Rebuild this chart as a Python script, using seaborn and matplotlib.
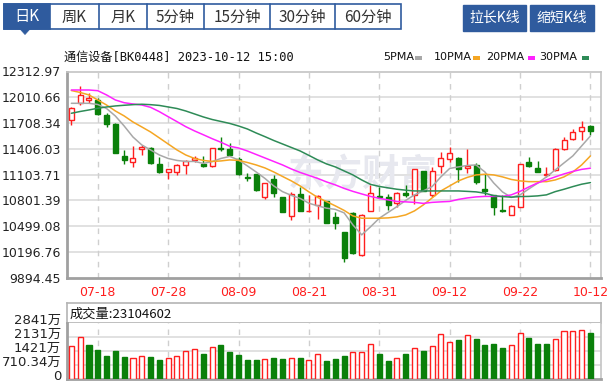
import numpy as np
import pandas as pd
import matplotlib
matplotlib.use("Agg")
import matplotlib.pyplot as plt
from matplotlib.patches import Rectangle, Polygon
from matplotlib.transforms import ScaledTranslation
import seaborn as sns

# ---------------- data ----------------
tick_idx = [3, 11, 19, 27, 35, 43, 51, 59]
tick_labels = ["07-18", "07-28", "08-09", "08-21", "08-31", "09-12", "09-22", "10-12"]

open_ = [11745, 11940, 11979, 11979, 11803, 11698, 11326, 11249, 11401, 11420,
         11229, 11132, 11139, 11217, 11276, 11223, 11205, 11420, 11401, 11284,
         11080, 11108, 10846, 11053, 10846, 10623, 10874, 10675, 10748, 10799,
         10611, 10428, 10658, 10162, 10682, 10854, 10839, 10775, 10885, 10866,
         11150, 10866, 11205, 11284, 11296, 11182, 11217, 10932, 10866, 10686,
         10631, 10728, 11256, 11178, 11096, 11158, 11401, 11518, 11619, 11678]
high = [11900, 12143, 12065, 11999, 11830, 11706, 11393, 11440, 11451, 11432,
        11314, 11167, 11229, 11276, 11326, 11323, 11415, 11542, 11471, 11314,
        11120, 11112, 11010, 11100, 10846, 10904, 10956, 10866, 10866, 10799,
        10670, 10428, 10670, 10639, 10983, 10963, 10877, 10904, 10983, 11167,
        11150, 11190, 11373, 11432, 11307, 11401, 11237, 11112, 10866, 10866,
        10748, 11229, 11307, 11264, 11190, 11413, 11542, 11635, 11736, 11686]
low = [11686, 11920, 11940, 11803, 11666, 11354, 11225, 11197, 11334, 11229,
       11127, 11056, 11100, 11111, 11252, 11190, 11197, 11381, 11326, 11100,
       11033, 10916, 10818, 10838, 10663, 10573, 10682, 10670, 10581, 10541,
       10467, 10084, 10174, 10154, 10682, 10827, 10690, 10728, 10845, 10760,
       10916, 10845, 11120, 11256, 11021, 11120, 10994, 10866, 10631, 10670,
       10631, 10721, 11190, 11132, 11080, 11150, 11393, 11510, 11510, 11569]
close = [11882, 12038, 11997, 11811, 11698, 11361, 11276, 11303, 11432, 11237,
         11139, 11167, 11217, 11268, 11303, 11209, 11413, 11405, 11334, 11112,
         11068, 10924, 11003, 10893, 10670, 10877, 10682, 10682, 10854, 10541,
         10534, 10124, 10182, 10631, 10885, 10839, 10748, 10893, 10866, 11167,
         10916, 11150, 11296, 11361, 11167, 11200, 11021, 10912, 10721, 10678,
         10736, 11229, 11205, 11139, 11108, 11401, 11510, 11607, 11659, 11619]

# volume in 万
volume = [1655, 2123, 1722, 1471, 1170, 1421, 1120, 1053, 1170, 1120,
          953, 1053, 1170, 1404, 1521, 1237, 1588, 1722, 1354, 1187,
          953, 953, 1003, 1053, 1003, 1053, 1053, 936, 1237, 886,
          1003, 1170, 1354, 1354, 1772, 1237, 886, 1053, 1237, 1538,
          1421, 1655, 2256, 1839, 1956, 2190, 2022, 1722, 1772, 1538,
          1722, 2307, 2073, 1772, 1772, 2022, 2424, 2424, 2490, 2310.46]

ma5 = [11940, 11940, 11940, 11926, 11879, 11791, 11674, 11545, 11452, 11393,
       11334, 11293, 11270, 11258, 11258, 11235, 11256, 11293, 11317, 11276,
       11206, 11135, 11059, 10971, 10904, 10860, 10825, 10768, 10737, 10710,
       10696, 10655, 10514, 10397, 10491, 10592, 10660, 10728, 10801, 10866,
       10912, 10963, 11077, 11176, 11194, 11211, 11217, 11135, 11006, 10901,
       10836, 10866, 10936, 11003, 11077, 11159, 11241, 11323, 11440, 11557]
ma10 = [12090, 12067, 12038, 11979, 11920, 11850, 11792, 11721, 11663, 11604,
        11534, 11463, 11393, 11334, 11293, 11270, 11258, 11264, 11276, 11270,
        11246, 11217, 11182, 11135, 11082, 11030, 10971, 10901, 10836, 10787,
        10737, 10684, 10619, 10592, 10592, 10592, 10596, 10608, 10631, 10678,
        10748, 10830, 10912, 10971, 11030, 11071, 11100, 11108, 11100, 11077,
        11047, 11030, 11021, 11021, 11021, 11041, 11077, 11135, 11217, 11323]
ma20 = [12096, 12096, 12096, 12088, 12038, 11979, 11947, 11932, 11920, 11893,
        11842, 11783, 11725, 11666, 11616, 11571, 11525, 11483, 11436, 11416,
        11381, 11340, 11299, 11258, 11217, 11170, 11129, 11094, 11059, 11018,
        10983, 10942, 10907, 10877, 10848, 10825, 10807, 10789, 10784, 10778,
        10766, 10778, 10784, 10789, 10813, 10830, 10842, 10848, 10848, 10848,
        10866, 10907, 10959, 11006, 11041, 11077, 11112, 11141, 11165, 11179]
ma30 = [11823, 11844, 11862, 11882, 11897, 11909, 11917, 11924, 11929, 11924,
        11915, 11897, 11879, 11850, 11815, 11780, 11750, 11727, 11704, 11674,
        11639, 11592, 11549, 11504, 11463, 11422, 11381, 11329, 11276, 11229,
        11194, 11147, 11100, 11041, 10989, 10965, 10948, 10932, 10921, 10912,
        10912, 10912, 10912, 10912, 10912, 10907, 10901, 10886, 10857, 10846,
        10839, 10846, 10848, 10854, 10866, 10904, 10932, 10963, 10991, 11010]

price_ticks = [9894.45, 10196.76, 10499.08, 10801.39, 11103.71, 11406.03, 11708.34, 12010.66, 12312.97]
price_tick_labels = ["9894.45", "10196.76", "10499.08", "10801.39", "11103.71",
                     "11406.03", "11708.34", "12010.66", "12312.97"]
vol_ticks = [0, 710.34, 1421, 2131, 2841]
vol_tick_labels = ["0", "710.34万", "1421万", "2131万", "2841万"]

title_text = "通信设备[BK0448] 2023-10-12 15:00"
vol_header = "成交量:23104602"
tabs = ["日K", "周K", "月K", "5分钟", "15分钟", "30分钟", "60分钟"]
buttons = ["拉长K线", "缩短K线"]
ma_names = ["5PMA", "10PMA", "20PMA", "30PMA"]

# ---------------- style ----------------
sns.set_theme(style="white")
plt.rcParams["font.family"] = ["DejaVu Sans", "Noto Sans CJK SC"]
CJK = ["Noto Sans CJK SC", "DejaVu Sans"]
MONO = ["DejaVu Sans Mono", "Noto Sans CJK SC"]

RED = "#ff1e1e"
GREEN = "#0a800a"
BLUE = "#2f5b9e"
MA_COLORS = ["#a8a8a8", "#f5a623", "#ff22ff", "#2e8b57"]
GRID = "#dcdcdc"
AXC = "#a0a0a0"

W, H = 607, 382
fig = plt.figure(figsize=(W / 100, H / 100), dpi=100)
fig.patch.set_facecolor("white")


def ax_px(l, t, r, b, **kw):
    return fig.add_axes([l / W, 1 - b / H, (r - l) / W, (b - t) / H], **kw)


n = len(close)
x = np.arange(n)
o = np.array(open_, float)
c = np.array(close, float)
hi = np.array(high, float)
lo = np.array(low, float)
up = c >= o
body_lo = np.minimum(o, c)
body_hi = np.maximum(o, c)
body_h = np.maximum(body_hi - body_lo, 0.5)
cols = np.where(up, RED, GREEN)

XL = (-0.53, 60.2)

# ---------------- main price axes ----------------
ax = ax_px(66.7, 71.5, 601, 277.7)
ax.set_facecolor("white")
ax.set_xlim(*XL)
ax.set_ylim(price_ticks[0], price_ticks[-1])
for lv in price_ticks[1:-1]:
    ax.axhline(lv, color=GRID, lw=1.2, zorder=0)
for ti in tick_idx:
    ax.axvline(ti, color="#cfcfcf", lw=1, ls=(0, (4, 4)), zorder=0)

ax.text(0.555, 0.5, "东方财富", transform=ax.transAxes, ha="center", va="center",
        fontsize=27, fontweight="bold", color="#e7e8ef", family=CJK, zorder=0.5)

ax.vlines(x, body_hi, hi, colors=cols, lw=1, zorder=2)
ax.vlines(x, lo, body_lo, colors=cols, lw=1, zorder=2)
ax.bar(x, body_h, bottom=body_lo, width=0.56,
       color=np.where(up, "white", GREEN), edgecolor=cols, linewidth=1, zorder=3)

ma_df = pd.DataFrame({"idx": x, "5PMA": ma5, "10PMA": ma10, "20PMA": ma20, "30PMA": ma30})
for name, col in zip(ma_names, MA_COLORS):
    sns.lineplot(data=ma_df, x="idx", y=name, ax=ax, color=col, lw=1.1, zorder=4)

ax.set_xlabel("")
ax.set_ylabel("")
ax.set_xticks(tick_idx)
ax.set_xticklabels(tick_labels, color=RED, fontsize=9)
ax.set_yticks(price_ticks)
ax.set_yticklabels(price_tick_labels, fontsize=9, color="#222222")
ax.tick_params(axis="both", length=0)
ax.tick_params(axis="x", pad=6)
ax.tick_params(axis="y", pad=4)
for s in ["top", "right"]:
    ax.spines[s].set_color("#c4c4c4")
    ax.spines[s].set_linewidth(1.2)
for s in ["left", "bottom"]:
    ax.spines[s].set_color(AXC)
    ax.spines[s].set_linewidth(2)

# ---------------- volume header ----------------
hax = ax_px(66.7, 302.7, 601, 322.7)
hax.set_xticks([])
hax.set_yticks([])
for s in hax.spines.values():
    s.set_color("#b4b4b4")
    s.set_linewidth(1.2)
hax.text(0.006, 0.45, vol_header, transform=hax.transAxes, ha="left", va="center",
         fontsize=9.5, color="#111111", family=CJK)

# ---------------- volume axes ----------------
vax = ax_px(66.7, 322.7, 601, 378.5)
vax.set_facecolor("white")
vax.set_xlim(*XL)
vax.set_ylim(0, 2841)
for lv in vol_ticks[1:-1]:
    vax.axhline(lv, color=GRID, lw=1.2, zorder=0)
for ti in tick_idx:
    vax.axvline(ti, color="#cfcfcf", lw=1, ls=(0, (4, 4)), zorder=0)
cvals = np.array(close, float)
prev = np.concatenate([[o[0]], cvals[:-1]])
vup = cvals >= prev
vcols = np.where(vup, RED, GREEN)
vax.bar(x, volume, width=0.58, color=np.where(vup, "white", GREEN),
        edgecolor=vcols, linewidth=1, zorder=3)
vax.set_xticks([])
vax.set_yticks(vol_ticks)
vax.set_yticklabels(vol_tick_labels, fontsize=9.5, color="#222222")
vax.tick_params(axis="y", length=0, pad=4)
for lbl in vax.get_yticklabels():
    lbl.set_transform(lbl.get_transform() + ScaledTranslation(0, 4 / 100, fig.dpi_scale_trans))
for s in ["top", "right"]:
    vax.spines[s].set_color("#c4c4c4")
    vax.spines[s].set_linewidth(1.2)
for s in ["left", "bottom"]:
    vax.spines[s].set_color(AXC)
    vax.spines[s].set_linewidth(2)
vax.spines["top"].set_visible(False)

# ---------------- overlay: tabs, buttons, header ----------------
ov = fig.add_axes([0, 0, 1, 1], zorder=-1)
ov.set_xlim(0, W)
ov.set_ylim(H, 0)
ov.axis("off")
ov.patch.set_alpha(0)

tab_edges = [4, 50, 99, 147, 204, 270, 335, 401]
ov.add_patch(Rectangle((4, 4), 397, 25.3, facecolor="white", edgecolor=BLUE, lw=1.2))
ov.add_patch(Rectangle((4, 4), 46, 25.3, facecolor=BLUE, edgecolor=BLUE, lw=1.2))
ov.add_patch(Polygon([[20, 29], [30, 29], [25, 34.5]], closed=True, facecolor=BLUE, edgecolor=BLUE, lw=0.5))
for e in tab_edges[2:-1]:
    ov.plot([e, e], [4, 29.3], color=BLUE, lw=1.2)
for i, t in enumerate(tabs):
    cx = (tab_edges[i] + tab_edges[i + 1]) / 2
    ov.text(cx, 17, t, ha="center", va="center", fontsize=11,
            color="white" if i == 0 else "#333333", family=CJK)

for (l, r), b in zip([(463, 526), (530, 594)], buttons):
    ov.add_patch(Rectangle((l, 5), r - l, 26, facecolor=BLUE, edgecolor=BLUE, lw=1))
    ov.text((l + r) / 2, 18, b, ha="center", va="center", fontsize=10, color="white", family=CJK)

ov.text(64, 57, title_text, ha="left", va="center", fontsize=8.7, color="#111111", family=MONO)
leg_x = [383, 434, 486, 539]
rect_x = [415, 473, 528, 582]
for nm, lx, rx, col in zip(ma_names, leg_x, rect_x, MA_COLORS):
    ov.text(lx, 57.5, nm, ha="left", va="center", fontsize=8, color="#111111")
    ov.add_patch(Rectangle((rx, 55.5), 7, 4, facecolor=col, edgecolor="none"))

fig.savefig("out.png", dpi=100, facecolor="white")
